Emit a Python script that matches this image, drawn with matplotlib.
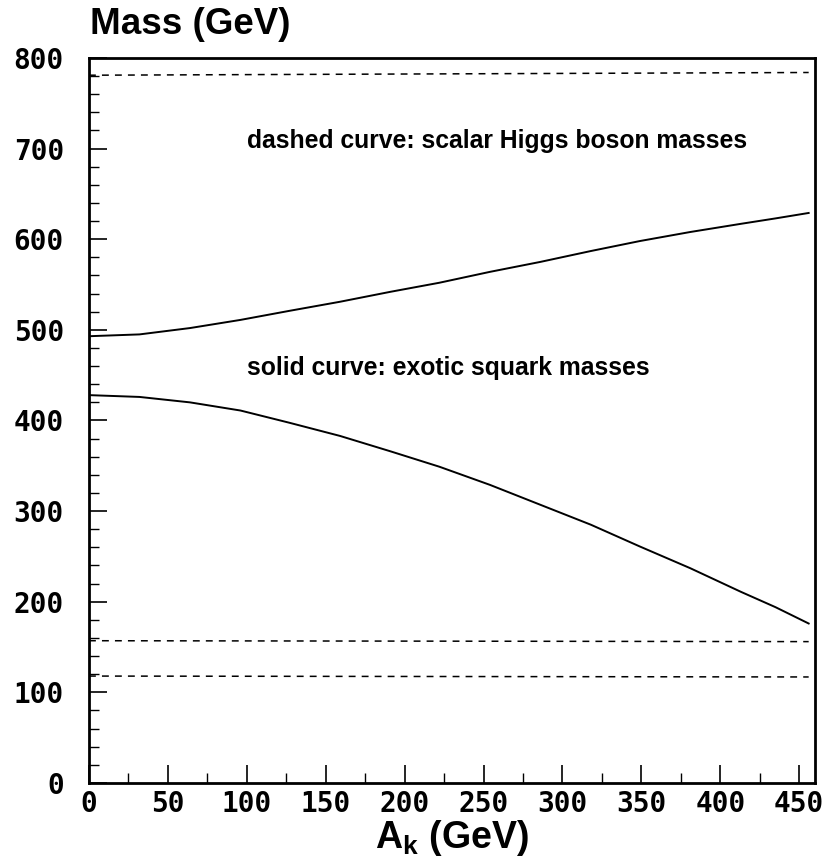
import matplotlib
matplotlib.use('Agg')
import matplotlib.pyplot as plt
from matplotlib.ticker import MultipleLocator

plt.rcParams['mathtext.fontset'] = 'custom'
plt.rcParams['mathtext.rm'] = 'Liberation Sans:bold'
plt.rcParams['mathtext.it'] = 'Liberation Sans:bold'
plt.rcParams['mathtext.bf'] = 'Liberation Sans:bold'

# exotic squark masses (solid curves)
ak_sq = [0, 32, 64, 96, 127, 159, 191, 222, 254, 286, 318, 349, 381, 413, 435, 456]
sq_upper = [493, 495, 502, 511, 521, 531, 542, 552, 564, 575, 587, 598, 608, 617, 623, 629]
sq_lower = [428, 426, 420, 411, 397.5, 383, 366, 349, 329, 307, 285, 261, 237, 211, 194, 176]

# scalar Higgs boson masses (dashed curves)
ak_h = [0, 456]
h_top = [781, 784]
h_mid = [157, 156]
h_low = [118, 117]

fig = plt.figure(figsize=(8.3, 8.63), dpi=100)
ax = fig.add_axes([0.1072, 0.0927, 0.8747, 0.8401])

ax.plot(ak_sq, sq_upper, color='black', lw=1.4)
ax.plot(ak_sq, sq_lower, color='black', lw=1.4)
for h in (h_top, h_mid, h_low):
    ax.plot(ak_h, h, color='black', lw=1.1, linestyle=(0, (4.5, 4)))

ax.set_xlim(0, 460)
ax.set_ylim(0, 800)
ax.xaxis.set_major_locator(MultipleLocator(50))
ax.xaxis.set_minor_locator(MultipleLocator(25))
ax.yaxis.set_major_locator(MultipleLocator(100))
ax.yaxis.set_minor_locator(MultipleLocator(20))
ax.tick_params(which='major', direction='in', length=13, width=1.2)
ax.tick_params(which='minor', direction='in', length=7, width=1.0)
ax.tick_params(axis='y', which='both', pad=18, left=True, right=False)
ax.tick_params(axis='x', which='both', pad=5, top=False)
for sp in ax.spines.values():
    sp.set_linewidth(2)

for lab in ax.get_xticklabels() + ax.get_yticklabels():
    lab.set_family('DejaVu Sans Mono')
    lab.set_fontweight('bold')
    lab.set_fontsize(20)

ax.text(100, 708, 'dashed curve: scalar Higgs boson masses', fontsize=17.8,
        fontweight='bold', family='Liberation Sans', va='center')
ax.text(100, 458, 'solid curve: exotic squark masses', fontsize=17.8,
        fontweight='bold', family='Liberation Sans', va='center')

fig.text(0.109, 0.972, 'Mass (GeV)', fontsize=26.5, fontweight='bold',
         family='Liberation Sans', va='center', ha='left')
ax.set_xlabel(r'$\mathbf{A_k}$ (GeV)', fontsize=27, fontweight='bold',
              family='Liberation Sans', labelpad=0)

fig.savefig('out.png', dpi=100)
